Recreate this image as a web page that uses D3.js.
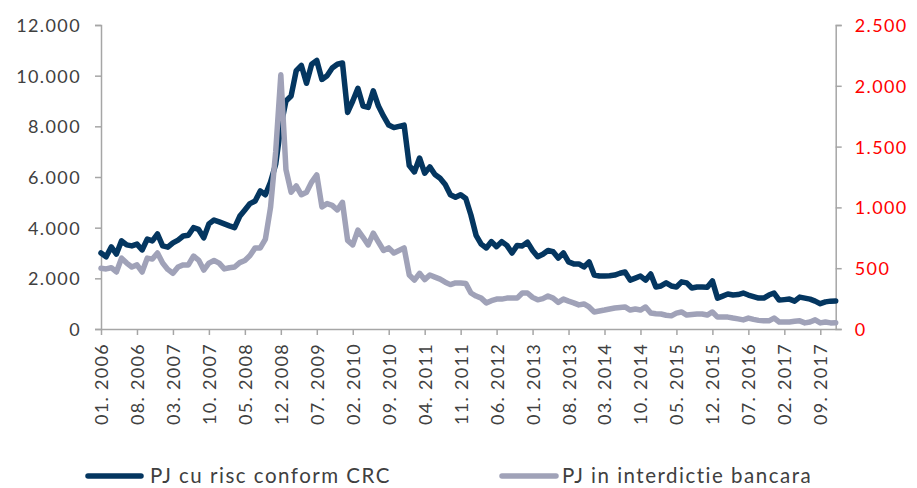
<!DOCTYPE html>
<html>
<head>
<meta charset="utf-8">
<script src="https://cdn.jsdelivr.net/npm/d3@7"></script>
<style>
  html, body { margin: 0; padding: 0; background: #fff; }
  svg text { font-family: Lato, "Open Sans", sans-serif; font-weight: 400; }
</style>
</head>
<body>
<svg id="chart" width="917" height="488"></svg>
<script>
// ---- data ----
const startYear = 2006;
const monthCount = 144; // 01.2006 .. 12.2017
const categories = [];
for (let k = 0; k < monthCount; k++) {
  const m = (k % 12) + 1, y = startYear + Math.floor(k / 12);
  categories.push((m < 10 ? "0" + m : "" + m) + ". " + y);
}
const tickEvery = 7;

const seriesNames = ["PJ cu risc conform CRC", "PJ in interdictie bancara"];

// left axis (PJ cu risc conform CRC)
const pjRisc = [
  3000, 2850, 3240, 2960, 3480, 3320, 3280, 3350, 3120, 3550, 3480, 3750,
  3280, 3230, 3400, 3510, 3670, 3700, 4000, 3930, 3600, 4150, 4300, 4230,
  4150, 4070, 4000, 4450, 4700, 4950, 5050, 5450, 5300, 5800, 6500, 8000,
  9000, 9200, 10200, 10400, 9700, 10450, 10600, 9850, 10000, 10300, 10450, 10500,
  8550, 9000, 9500, 8800, 8750, 9400, 8800, 8400, 8050, 7950, 8000, 8050,
  6450, 6200, 6750, 6150, 6400, 6100, 5950, 5700, 5300, 5200, 5300, 5150,
  4500, 3700, 3350, 3200, 3450, 3250, 3450, 3300, 3000, 3300, 3280, 3430,
  3100, 2850, 2950, 3100, 3050, 2800, 3000, 2650, 2570, 2570, 2450, 2650,
  2130, 2090, 2090, 2100, 2130, 2200, 2250, 1930, 2010, 2090, 1930, 2170,
  1660, 1700, 1820, 1700, 1660, 1860, 1820, 1620, 1660, 1660, 1650, 1900,
  1220, 1300, 1380, 1340, 1360, 1420, 1340, 1280, 1220, 1220, 1340, 1420,
  1140, 1160, 1180, 1100, 1260, 1220, 1180, 1100, 1000, 1070, 1100, 1110
];

// right axis (PJ in interdictie bancara)
const pjInterdictie = [
  500, 494, 504, 469, 583, 542, 510, 527, 469, 583, 575, 625,
  542, 490, 458, 510, 527, 527, 600, 567, 485, 542, 563, 542,
  494, 504, 510, 546, 563, 604, 667, 667, 740, 1000, 1458, 2090,
  1310, 1125, 1177, 1104, 1125, 1208, 1267, 1004, 1031, 1017, 979, 1042,
  729, 692, 813, 754, 692, 788, 715, 646, 667, 625, 646, 667,
  444, 402, 458, 406, 444, 427, 410, 385, 365, 379, 379, 375,
  296, 271, 254, 215, 233, 246, 246, 254, 254, 254, 296, 296,
  260, 240, 250, 271, 254, 219, 246, 229, 215, 198, 206, 181,
  140, 148, 156, 165, 173, 177, 181, 156, 165, 156, 181, 131,
  125, 123, 113, 108, 131, 140, 115, 119, 123, 123, 115, 140,
  98, 98, 98, 90, 83, 75, 90, 79, 71, 67, 67, 90,
  58, 58, 58, 63, 67, 50, 58, 75, 50, 58, 50, 52
];

const leftTicks = [0, 2000, 4000, 6000, 8000, 10000, 12000];
const rightTicks = [0, 500, 1000, 1500, 2000, 2500];

// ---- drawing ----
const svg = d3.select("#chart");
const plot = { left: 101, right: 835.7, top: 25, bottom: 329 };
const colDark = "#043660", colGray = "#A0A2B8", axisCol = "#A6A6A6";
const textCol = "#404040";

const loc = d3.formatLocale({ decimal: ",", thousands: ".", grouping: [3], currency: ["", ""] });
const fmt = loc.format(",");

const x = d3.scalePoint().domain(categories).range([plot.left, plot.right]);
const yL = d3.scaleLinear().domain([0, 12000]).range([plot.bottom, plot.top]);
const yR = d3.scaleLinear().domain([0, 2500]).range([plot.bottom, plot.top]);

// left axis
const gL = svg.append("g").attr("transform", `translate(${plot.left},0)`)
  .call(d3.axisLeft(yL).tickValues(leftTicks).tickFormat(fmt).tickSize(6).tickPadding(14));
gL.select(".domain").attr("stroke", axisCol).attr("stroke-width", 1.5);
gL.selectAll(".tick line").attr("stroke", axisCol).attr("stroke-width", 1.5);
gL.selectAll(".tick text").attr("fill", textCol).style("font-size", "18px")
  .style("letter-spacing", "1.4px").attr("dy", "0.36em");

// right axis
const gR = svg.append("g").attr("transform", `translate(${plot.right},0)`)
  .call(d3.axisRight(yR).tickValues(rightTicks).tickFormat(fmt).tickSize(6).tickPadding(13));
gR.select(".domain").attr("stroke", axisCol).attr("stroke-width", 1.5);
gR.selectAll(".tick line").attr("stroke", axisCol).attr("stroke-width", 1.5);
gR.selectAll(".tick text").attr("fill", "#FF0000").style("font-size", "18px")
  .style("letter-spacing", "1.4px").attr("dy", "0.36em");

// bottom axis
const tickCats = categories.filter((d, i) => i % tickEvery === 0);
const gX = svg.append("g").attr("transform", `translate(0,${plot.bottom})`)
  .call(d3.axisBottom(x).tickValues(tickCats).tickSize(6).tickSizeOuter(0));
gX.select(".domain").attr("stroke", axisCol).attr("stroke-width", 1.5);
gX.selectAll(".tick line").attr("stroke", axisCol).attr("stroke-width", 1.5);
gX.selectAll(".tick text")
  .attr("fill", textCol).style("font-size", "18px").style("letter-spacing", "1.3px")
  .attr("transform", "rotate(-90)")
  .attr("x", -14).attr("y", 0).attr("dy", "0.36em")
  .attr("text-anchor", "end");

// lines
const lineL = d3.line().x((d, i) => x(categories[i])).y(d => yL(d)).curve(d3.curveLinear);
const lineR = d3.line().x((d, i) => x(categories[i])).y(d => yR(d)).curve(d3.curveLinear);

svg.append("path").datum(pjRisc).attr("d", lineL)
  .attr("fill", "none").attr("stroke", colDark).attr("stroke-width", 5.5)
  .attr("stroke-linejoin", "round").attr("stroke-linecap", "round");
svg.append("path").datum(pjInterdictie).attr("d", lineR)
  .attr("fill", "none").attr("stroke", colGray).attr("stroke-width", 5.5)
  .attr("stroke-linejoin", "round").attr("stroke-linecap", "round");

// legend
const legend = [
  { name: seriesNames[0], color: colDark, x0: 88, x1: 141, tx: 150 },
  { name: seriesNames[1], color: colGray, x0: 502, x1: 556, tx: 562 }
];
const lg = svg.append("g");
legend.forEach(l => {
  lg.append("line").attr("x1", l.x0).attr("x2", l.x1).attr("y1", 476).attr("y2", 476)
    .attr("stroke", l.color).attr("stroke-width", 5.5).attr("stroke-linecap", "round");
  lg.append("text").attr("x", l.tx).attr("y", 483).text(l.name)
    .attr("fill", textCol).style("font-size", "20.5px").style("letter-spacing", "1.5px");
});
</script>
</body>
</html>
